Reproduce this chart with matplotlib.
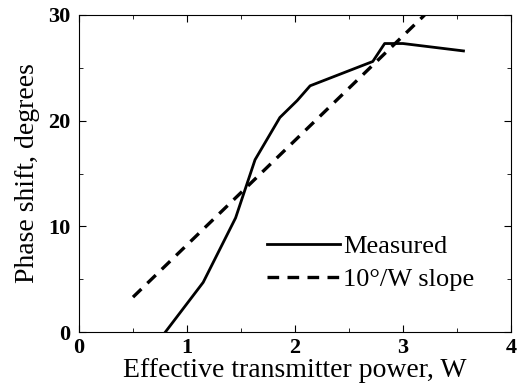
import matplotlib
matplotlib.use("Agg")
import matplotlib.pyplot as plt
from matplotlib.ticker import MultipleLocator

plt.rcParams['font.family'] = ['Liberation Serif', 'DejaVu Serif']

# measured phase shift vs power
power = [0.80, 1.15, 1.45, 1.63, 1.86, 2.02, 2.14, 2.72, 2.83, 3.00, 3.56]
phase = [0.0, 4.7, 10.8, 16.3, 20.3, 21.9, 23.3, 25.6, 27.3, 27.3, 26.6]

# 10 deg/W reference slope
slope_x = [0.5, 3.2]
slope_y = [3.3, 30.0]

fig = plt.figure(figsize=(5.17, 3.87), dpi=100)
ax = fig.add_axes([79 / 517, (387 - 332) / 387, (511 - 79) / 517, (332 - 15) / 387])

ax.plot(power, phase, color='black', lw=2.0, label='Measured')
ax.plot(slope_x, slope_y, color='black', lw=2.4, ls=(0, (3.5, 2.5)), label='10°/W slope')

ax.set_xlim(0, 4)
ax.set_ylim(0, 30)
ax.xaxis.set_major_locator(MultipleLocator(1))
ax.xaxis.set_minor_locator(MultipleLocator(0.5))
ax.yaxis.set_major_locator(MultipleLocator(10))
ax.yaxis.set_minor_locator(MultipleLocator(5))
ax.tick_params(which='both', direction='in', top=True, right=True, labelsize=16)
ax.tick_params(axis='x', pad=4)
ax.tick_params(axis='y', pad=6)
ax.tick_params(which='major', length=5)
ax.tick_params(which='minor', length=3)
for lbl in ax.get_xticklabels() + ax.get_yticklabels():
    lbl.set_fontweight('bold')

ax.set_xlabel('Effective transmitter power, W', fontsize=20, labelpad=0)
ax.set_ylabel('Phase shift, degrees', fontsize=20, labelpad=6)

ax.legend(loc='lower right', bbox_to_anchor=(0.97, 0.055), frameon=False, fontsize=19,
          handlelength=2.8, handletextpad=0.1, labelspacing=0.35)

fig.savefig('out.png', dpi=100)
